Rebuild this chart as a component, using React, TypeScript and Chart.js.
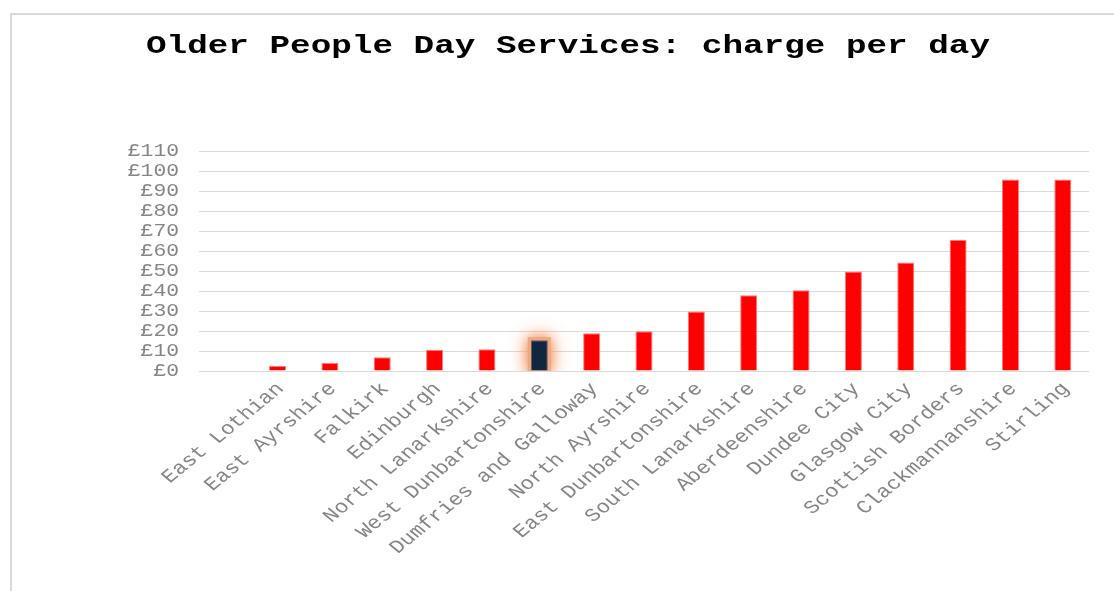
import React, { useEffect, useRef } from "react";
import { Chart, registerables } from "chart.js";

Chart.register(...registerables);

const TITLE = "Older People Day Services: charge per day";
const categories = [
  "",
  "East Lothian",
  "East Ayrshire",
  "Falkirk",
  "Edinburgh",
  "North Lanarkshire",
  "West Dunbartonshire",
  "Dumfries and Galloway",
  "North Ayrshire",
  "East Dunbartonshire",
  "South Lanarkshire",
  "Aberdeenshire",
  "Dundee City",
  "Glasgow City",
  "Scottish Borders",
  "Clackmannanshire",
  "Stirling",
];
const chargePerDay = [
  null, 2.5, 4.0, 6.9, 10.6, 10.9, 15.4, 18.9, 19.9, 29.8, 37.9, 40.4, 49.7, 54.2, 65.5, 95.8, 95.8,
];
const highlighted = "West Dunbartonshire";
const yMin = 0;
const yMax = 110;
const yStep = 10;

const RED = "#ff0000";
const DARK = "#10273f";
const LABEL_COLOR = "#858585";
const FONT = '"Liberation Mono"';
const STRETCH = 1.22;

export default function App() {
  const canvasRef = useRef<HTMLCanvasElement | null>(null);

  useEffect(() => {
    const canvas = canvasRef.current;
    if (!canvas) return;
    const hiIndex = categories.indexOf(highlighted);

    const glowPlugin = {
      id: "glow",
      beforeDatasetsDraw(chart: any) {
        const meta = chart.getDatasetMeta(0);
        const el = meta.data[hiIndex];
        if (!el) return;
        const { x, y, base, width } = el.getProps(["x", "y", "base", "width"], true);
        const ctx = chart.ctx;
        const ca = chart.chartArea;
        ctx.save();
        ctx.beginPath();
        ctx.rect(ca.left, ca.top, ca.right - ca.left, ca.bottom - ca.top);
        ctx.clip();
        ctx.shadowColor = "rgba(241,150,100,1)";
        ctx.shadowBlur = 20;
        ctx.fillStyle = "rgba(243,170,132,1)";
        ctx.fillRect(x - width / 2 - 3, y - 3, width + 6, base - y + 6);
        ctx.shadowBlur = 12;
        ctx.fillRect(x - width / 2 - 2, y - 2, width + 4, base - y + 4);
        ctx.restore();
      },
    };

    const textPlugin = {
      id: "stretchText",
      afterDraw(chart: any) {
        const ctx = chart.ctx;
        // title
        ctx.save();
        ctx.font = "bold 26px " + FONT;
        ctx.fillStyle = "#000000";
        const w = ctx.measureText(TITLE).width;
        ctx.translate(568, 53);
        ctx.scale(844 / w, 1);
        ctx.textAlign = "center";
        ctx.textBaseline = "alphabetic";
        ctx.fillText(TITLE, 0, 0);
        ctx.restore();

        // y tick labels
        const ys = chart.scales.y;
        ys.ticks.forEach((t: any) => {
          const py = ys.getPixelForValue(t.value);
          ctx.save();
          ctx.font = "17.5px " + FONT;
          ctx.fillStyle = LABEL_COLOR;
          ctx.translate(ys.right - 20, py);
          ctx.scale(STRETCH, 1);
          ctx.textAlign = "right";
          ctx.textBaseline = "middle";
          ctx.fillText("£" + t.value, 0, 0);
          ctx.restore();
        });

        // x labels
        const xs = chart.scales.x;
        categories.forEach((label, i) => {
          if (!label) return;
          const px = xs.getPixelForTick(i);
          ctx.save();
          ctx.font = "18.5px " + FONT;
          ctx.fillStyle = LABEL_COLOR;
          ctx.translate(px + 3, xs.top + 15);
          ctx.scale(STRETCH, 1);
          ctx.rotate(-Math.PI / 4);
          ctx.textAlign = "right";
          ctx.textBaseline = "middle";
          ctx.fillText(label, 0, 0);
          ctx.restore();
        });
      },
    };

    const chart = new Chart(canvas, {
      type: "bar",
      data: {
        labels: categories,
        datasets: [
          {
            data: chargePerDay,
            backgroundColor: categories.map((c) => (c === highlighted ? DARK : RED)),
            borderColor: categories.map((c) => (c === highlighted ? "#56606c" : "#ff7a7a")),
            borderWidth: 1,
            barPercentage: 0.325,
            categoryPercentage: 1,
          },
        ],
      },
      options: {
        animation: false,
        responsive: false,
        maintainAspectRatio: false,
        layout: { padding: { top: 151, left: 0, right: 25, bottom: 0 } },
        plugins: {
          legend: { display: false },
          title: { display: false },
          tooltip: { enabled: false },
        },
        scales: {
          x: {
            grid: { display: false },
            border: { display: false },
            ticks: { display: false, autoSkip: false },
            afterFit(scale: any) {
              scale.height = 220;
            },
          },
          y: {
            min: yMin,
            max: yMax,
            border: { display: false },
            grid: { color: "#dadada", lineWidth: 1, drawTicks: false },
            ticks: { display: false, autoSkip: false, stepSize: yStep },
            afterFit(scale: any) {
              scale.width = 199;
            },
          },
        },
      },
      plugins: [glowPlugin, textPlugin],
    });

    return () => chart.destroy();
  }, []);

  return (
    <div
      style={{
        position: "fixed",
        left: 0,
        top: 0,
        width: 1114,
        height: 591,
        overflow: "hidden",
        background: "#ffffff",
      }}
    >
      <div
        style={{
          position: "absolute",
          left: 10,
          top: 13,
          width: 1200,
          height: 700,
          border: "2px solid #d9d9d9",
          boxSizing: "border-box",
        }}
      />
      <canvas
        ref={canvasRef}
        width={1114}
        height={591}
        style={{ position: "absolute", left: 0, top: 0, width: 1114, height: 591 }}
      />
    </div>
  );
}
